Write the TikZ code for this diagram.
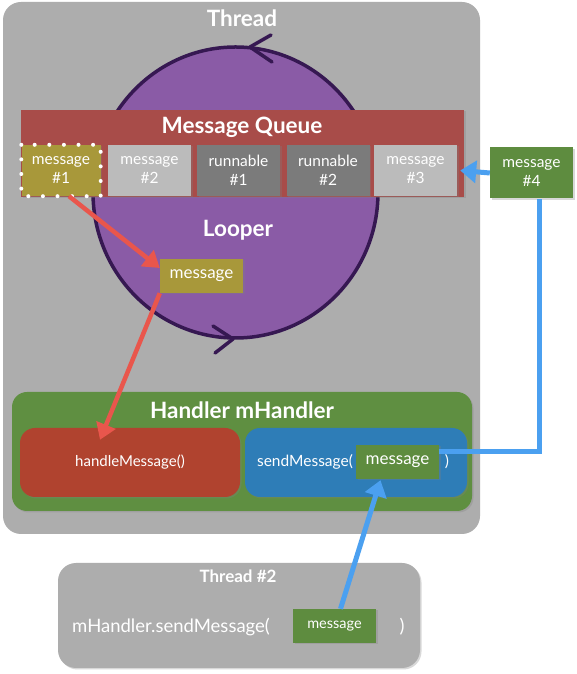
\documentclass[tikz,border=0pt]{standalone}
\usepackage{fontspec}
\setmainfont{Lato}
\usetikzlibrary{arrows.meta,shadows}

\definecolor{threadgray}{HTML}{ADADAD}
\definecolor{looperpurple}{HTML}{8A5BA6}
\definecolor{looperline}{HTML}{361852}
\definecolor{queuered}{HTML}{A84C49}
\definecolor{msgolive}{HTML}{A8983A}
\definecolor{lightcell}{HTML}{BBBBBB}
\definecolor{darkcell}{HTML}{7B7B7B}
\definecolor{msggreen}{HTML}{5E8C3F}
\definecolor{handlergreen}{HTML}{5F8F41}
\definecolor{handlered}{HTML}{B0432F}
\definecolor{sendblue}{HTML}{2E7DB7}
\definecolor{arrowred}{HTML}{E9564C}
\definecolor{arrowblue}{HTML}{4BA0F0}

\begin{document}
\begin{tikzpicture}[x=1pt,y=1pt,
        box/.style={rectangle, text=white, align=center, inner sep=0pt,
            drop shadow={opacity=0.3, shadow xshift=1.5pt, shadow yshift=-1.5pt}},
        cell/.style={box, minimum width=83pt, minimum height=51pt, font=\fontsize{15.5}{19}\selectfont},
        msgbox/.style={box, fill=msggreen, minimum width=83pt, minimum height=34pt},
        title/.style={text=white, inner sep=0pt, font=\fontsize{22.5}{26}\selectfont\bfseries},
        label/.style={text=white, inner sep=0pt},
        loopline/.style={draw=looperline, line width=3.5pt, line cap=round, line join=round},
        redarrow/.style={draw=arrowred, line width=4.5pt, -{Triangle[length=16pt,width=20pt]}},
        blueline/.style={draw=arrowblue, line width=5pt},
        bluearrow/.style={blueline, -{Triangle[length=16pt,width=22pt]}}]
        \fill[white] (0,0) rectangle (576,674);
        \useasboundingbox (0,0) rectangle (576,674);

        \node[rounded corners=18pt, fill=threadgray, minimum width=477pt, minimum height=532pt] (thread) at (241.5,406) {};
        \node[title] (threadtitle) at (242,656) {Thread};

        \draw[loopline, fill=looperpurple] (235.5,481.5) ellipse (142.5 and 145.5);
        \draw[loopline] (271,639) -- (250,627) -- (272,612);
        \draw[loopline] (213,348) -- (233,335) -- (215,321);

        \node[box, fill=queuered, minimum width=443pt, minimum height=87pt] (queue) at (242.5,520.5) {};
        \node[title] (queuetitle) at (242,547) {Message Queue};

        \node[cell, fill=msgolive, minimum width=79pt] (msga) at (61,503.5) {message\\\#1};
        \draw[white, line width=4pt, line cap=round, dash pattern=on 0pt off 14.6pt] (msga.north west) rectangle (msga.south east);
        \foreach \nm/\x/\cl/\word/\num in {msgb/149.5/lightcell/message/2, runa/238.5/darkcell/runnable/1,
                runb/328/darkcell/runnable/2, msgc/415.5/lightcell/message/3}
            \node[cell, fill=\cl] (\nm) at (\x,503.5) {\word\\\#\num};

        \node[cell, fill=msggreen] (msgd) at (531.5,501) {message\\\#4};

        \node[title] (loopertitle) at (238,444) {Looper};
        \node[msgbox, fill=msgolive, font=\fontsize{17}{20}\selectfont] (current) at (201.5,398) {message};

        \node[box, rounded corners=15pt, fill=handlergreen, minimum width=460pt, minimum height=119pt] (handler) at (242,222.5) {};
        \node[title] (handlertitle) at (242,264) {Handler mHandler};
        \node[box, rounded corners=15pt, fill=handlered, minimum width=220pt, minimum height=69pt,
            font=\fontsize{15}{18}\selectfont] (handle) at (130,211.5) {handleMessage()};
        \node[box, rounded corners=15pt, fill=sendblue, minimum width=222pt, minimum height=69pt] (send) at (356,211.5) {};
        \node[label, font=\fontsize{15.5}{18}\selectfont] (sendtext) at (305,212) {sendMessage(};
        \node[msgbox, font=\fontsize{17}{20}\selectfont] (sendmsg) at (397.5,212) {message};
        \node[label, font=\fontsize{15.5}{18}\selectfont] (sendclose) at (447,212) {)};

        \node[box, rounded corners=18pt, fill=threadgray, minimum width=362pt, minimum height=105pt] (threadb) at (239,58.5) {};
        \node[label, font=\fontsize{17}{20}\selectfont\bfseries] (threadbtitle) at (238,98) {Thread \#2};
        \node[label, anchor=west, font=\fontsize{18.5}{22}\selectfont] (call) at (72,47) {mHandler.sendMessage(};
        \node[msgbox, font=\fontsize{14.5}{17}\selectfont] (callmsg) at (334.5,48) {message};
        \node[label, font=\fontsize{18.5}{22}\selectfont] (callclose) at (402,47) {)};

        \draw[redarrow] ([xshift=8pt]msga.south) -- ([yshift=8pt]current.west);
        \draw[redarrow] (current.south west) -- ([xshift=-30pt,yshift=-12pt]handle.north);
        \draw[blueline] ([yshift=10pt]sendmsg.east) -| ([xshift=8pt]msgd.south);
        \draw[bluearrow] (msgd.west) -- ([xshift=3pt]msgc.east);
        \draw[bluearrow] ([xshift=6pt]callmsg.north) -- ([xshift=-17pt,yshift=-1pt]sendmsg.south);
\end{tikzpicture}
\end{document}
